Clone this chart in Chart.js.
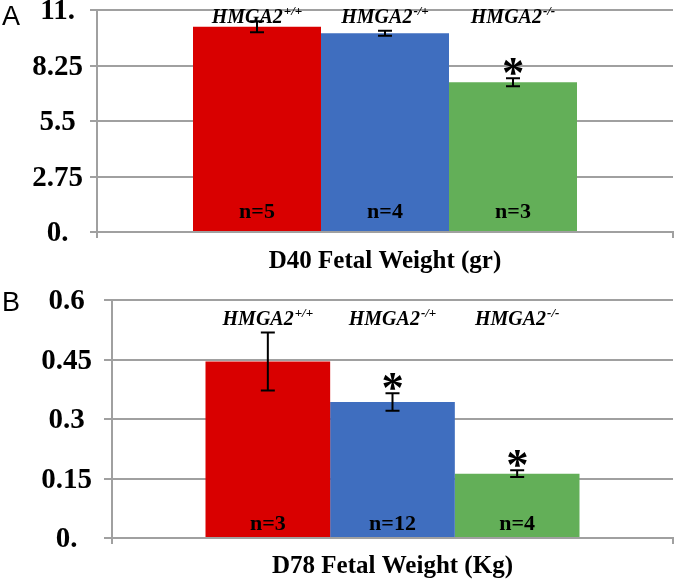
<!DOCTYPE html>
<html>
<head>
<meta charset="utf-8">
<script src="https://cdn.jsdelivr.net/npm/chart.js@4"></script>
<style>
  body { margin: 0; background: #fff; }
  #wrap { position: relative; width: 677px; height: 579px; overflow: hidden; }
  canvas { position: absolute; left: 0; }
  .panel { position: absolute; font-family: 'Liberation Sans', Arial, sans-serif; font-size: 27px; line-height: 1; color: #000; }
</style>
</head>
<body>
<div id="wrap">
  <canvas id="chartA" width="677" height="274" style="top:0"></canvas>
  <canvas id="chartB" width="677" height="305" style="top:274px"></canvas>
  <div class="panel" style="left:2px;top:3px">A</div>
  <div class="panel" style="left:2px;top:289px">B</div>
</div>
<script>
// shared
const geneName = 'HMGA2';
const genotypes = ['+/+', '-/+', '-/-'];
const barColors = ['#d90000', '#3f6ebf', '#63af58'];

// panel A - D40
const d40Means = [10.17, 9.85, 7.42];
const d40Errors = [0.27, 0.12, 0.2];
const d40Counts = [5, 4, 3];
const d40Stars = [false, false, true];
const d40Ticks = [0, 2.75, 5.5, 8.25, 11];
const d40TickLabels = ['0.', '2.75', '5.5', '8.25', '11.'];
const d40Title = 'D40 Fetal Weight (gr)';

// panel B - D78
const d78Means = [0.445, 0.343, 0.162];
const d78Errors = [0.073, 0.022, 0.0085];
const d78Counts = [3, 12, 4];
const d78Stars = [false, true, true];
const d78Ticks = [0, 0.15, 0.3, 0.45, 0.6];
const d78TickLabels = ['0.', '0.15', '0.3', '0.45', '0.6'];
const d78Title = 'D78 Fetal Weight (Kg)';

const GRID = '#a0a0a0';
const SERIF = '"Liberation Serif", "Times New Roman", serif';

function annotatePlugin(errors, counts, stars, labelOffset, nOffset) {
    return {
        id: 'annotate',
        afterDatasetsDraw(chart) {
            const ctx = chart.ctx;
            const y = chart.scales.y;
            const area = chart.chartArea;
            ctx.save();
            chart.data.datasets.forEach((ds, i) => {
                const bar = chart.getDatasetMeta(i).data[0];
                const x = bar.x;
                const mean = ds.data[0];
                const yHi = y.getPixelForValue(mean + errors[i]);
                const yLo = y.getPixelForValue(mean - errors[i]);

                // error bar
                ctx.strokeStyle = '#000';
                ctx.lineWidth = 2;
                ctx.beginPath();
                ctx.moveTo(x, yHi); ctx.lineTo(x, yLo);
                ctx.moveTo(x - 7, yHi); ctx.lineTo(x + 7, yHi);
                ctx.moveTo(x - 7, yLo); ctx.lineTo(x + 7, yLo);
                ctx.stroke();

                ctx.fillStyle = '#000';
                ctx.textBaseline = 'alphabetic';

                // significance star
                if (stars[i]) {
                    ctx.font = 'bold 100px ' + SERIF;
                    let m = ctx.measureText('*');
                    const inkH = m.actualBoundingBoxAscent + m.actualBoundingBoxDescent;
                    const size = 100 * 17 / inkH;
                    ctx.font = 'bold ' + size + 'px ' + SERIF;
                    m = ctx.measureText('*');
                    ctx.textAlign = 'left';
                    const bx = x - (m.actualBoundingBoxRight - m.actualBoundingBoxLeft) / 2;
                    const by = yHi - 3 - m.actualBoundingBoxDescent;
                    ctx.fillText('*', bx, by);
                }

                // n labels
                ctx.textAlign = 'center';
                ctx.font = 'bold 22px ' + SERIF;
                ctx.fillText('n=' + counts[i], x, area.bottom - nOffset);

                // genotype labels
                ctx.textAlign = 'left';
                const mainFont = 'italic bold 20px ' + SERIF;
                const supFont = 'italic bold 13px ' + SERIF;
                ctx.font = mainFont;
                const w1 = ctx.measureText(geneName).width;
                ctx.font = supFont;
                const w2 = ctx.measureText(genotypes[i]).width;
                const sx = x - (w1 + w2 + 1) / 2;
                const yb = area.top + labelOffset;
                ctx.font = mainFont;
                ctx.fillText(geneName, sx, yb);
                ctx.font = supFont;
                ctx.fillText(genotypes[i], sx + w1 + 1, yb - 8);
            });
            ctx.restore();
        }
    };
}

function makeChart(id, p) {
    const ctx = document.getElementById(id).getContext('2d');
    return new Chart(ctx, {
        type: 'bar',
        data: {
            labels: [''],
            datasets: p.means.map((v, i) => ({
                label: geneName + genotypes[i],
                data: [v],
                backgroundColor: barColors[i],
                borderWidth: 0,
                categoryPercentage: 2 / 3,
                barPercentage: 1
            }))
        },
        options: {
            responsive: false,
            animation: false,
            layout: { padding: { top: p.padTop, right: 4, bottom: 0, left: 0 } },
            plugins: { legend: { display: false }, tooltip: { enabled: false } },
            scales: {
                x: {
                    offset: true,
                    grid: { drawOnChartArea: false, drawTicks: true, tickLength: 6, color: GRID, lineWidth: 2 },
                    border: { color: GRID, width: 2 },
                    ticks: { display: false },
                    title: {
                        display: true,
                        text: p.title,
                        color: '#000',
                        font: { family: SERIF, size: 25, weight: 'bold', lineHeight: 1 },
                        padding: { top: p.titlePad, bottom: 0 }
                    }
                },
                y: {
                    min: 0,
                    max: p.ticks[p.ticks.length - 1],
                    afterBuildTicks: s => { s.ticks = p.ticks.map(v => ({ value: v })); },
                    afterFit: s => { s.width = p.axisWidth; },
                    grid: { color: GRID, lineWidth: 2, tickLength: p.tickLen },
                    border: { color: GRID, width: 2 },
                    ticks: {
                        color: '#000',
                        padding: p.tickPad,
                        crossAlign: 'center',
                        labelOffset: 2,
                        font: { family: SERIF, size: 29, weight: 'bold', lineHeight: 0.1 },
                        callback: (v, i) => p.tickLabels[i]
                    }
                }
            }
        },
        plugins: [annotatePlugin(p.errors, p.counts, p.stars, p.labelOffset, p.nOffset)]
    });
}

makeChart('chartA', {
    means: d40Means, errors: d40Errors, counts: d40Counts, stars: d40Stars,
    ticks: d40Ticks, tickLabels: d40TickLabels, title: d40Title,
    padTop: 10, titlePad: 11, axisWidth: 97, tickLen: 7, tickPad: 7,
    labelOffset: 13, nOffset: 14
});

makeChart('chartB', {
    means: d78Means, errors: d78Errors, counts: d78Counts, stars: d78Stars,
    ticks: d78Ticks, tickLabels: d78TickLabels, title: d78Title,
    padTop: 26, titlePad: 10, axisWidth: 112, tickLen: 8, tickPad: 12,
    labelOffset: 25, nOffset: 8
});
</script>
</body>
</html>
